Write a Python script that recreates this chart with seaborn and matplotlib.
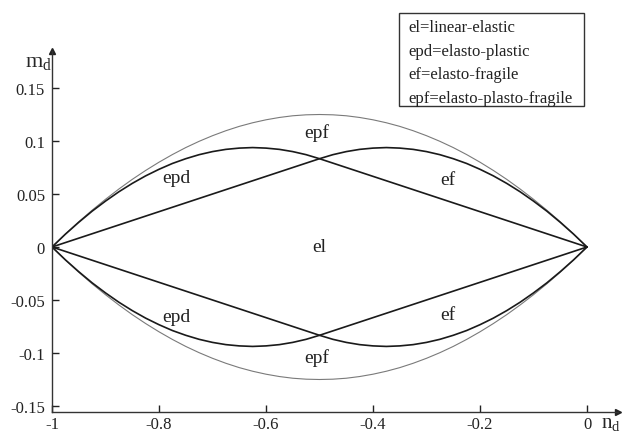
import numpy as np
import pandas as pd
import seaborn as sns
import matplotlib.pyplot as plt
import matplotlib.patches as mpatches

# values (n_d, m_d), upper half; lower half is the mirror
n_epf = [-1.0, -0.975, -0.95, -0.925, -0.9, -0.875, -0.85, -0.825, -0.8, -0.775, -0.75,
         -0.725, -0.7, -0.675, -0.65, -0.625, -0.6, -0.575, -0.55, -0.525, -0.5,
         -0.475, -0.45, -0.425, -0.4, -0.375, -0.35, -0.325, -0.3, -0.275, -0.25,
         -0.225, -0.2, -0.175, -0.15, -0.125, -0.1, -0.075, -0.05, -0.025, 0.0]
m_epf = [0.0, 0.0122, 0.0238, 0.0347, 0.045, 0.0547, 0.0638, 0.0722, 0.08, 0.0872, 0.0938,
         0.0997, 0.105, 0.1097, 0.1138, 0.1172, 0.12, 0.1222, 0.1238, 0.1247, 0.125,
         0.1247, 0.1238, 0.1222, 0.12, 0.1172, 0.1138, 0.1097, 0.105, 0.0997, 0.0938,
         0.0872, 0.08, 0.0722, 0.0638, 0.0547, 0.045, 0.0347, 0.0238, 0.0122, 0.0]

# elasto-plastic: curved part up to n=-0.5, then straight to the origin
n_epd = [-1.0, -0.975, -0.95, -0.925, -0.9, -0.875, -0.85, -0.825, -0.8, -0.775, -0.75,
         -0.725, -0.7, -0.675, -0.65, -0.625, -0.6, -0.575, -0.55, -0.525, -0.5, 0.0]
m_epd = [0.0, 0.0121, 0.0233, 0.0338, 0.0433, 0.0521, 0.06, 0.0671, 0.0733, 0.0788, 0.0833,
         0.0871, 0.09, 0.0921, 0.0933, 0.0938, 0.0933, 0.0921, 0.09, 0.0871, 0.0833, 0.0]

# elasto-fragile: straight from n=-1 to -0.5, then curved to the origin
n_ef = [-1.0, -0.5, -0.475, -0.45, -0.425, -0.4, -0.375, -0.35, -0.325, -0.3, -0.275,
        -0.25, -0.225, -0.2, -0.175, -0.15, -0.125, -0.1, -0.075, -0.05, -0.025, 0.0]
m_ef = [0.0, 0.0833, 0.0871, 0.09, 0.0921, 0.0933, 0.0938, 0.0933, 0.0921, 0.09, 0.0871,
        0.0833, 0.0788, 0.0733, 0.0671, 0.06, 0.0521, 0.0433, 0.0338, 0.0233, 0.0121, 0.0]

x_ticks = [-1, -0.8, -0.6, -0.4, -0.2, 0]
x_ticklabels = ["-1", "-0.8", "-0.6", "-0.4", "-0.2", "0"]
y_ticks = [-0.15, -0.1, -0.05, 0, 0.05, 0.1, 0.15]
y_ticklabels = ["-0.15", "-0.1", "-0.05", "0", "0.05", "0.1", "0.15"]

legend_lines = ["el=linear-elastic", "epd=elasto-plastic",
                "ef=elasto-fragile", "epf=elasto-plasto-fragile"]

region_labels = ["epf", "epd", "ef", "el", "epd", "ef", "epf"]
region_n = [-0.505, -0.768, -0.26, -0.5, -0.768, -0.26, -0.505]
region_m = [0.108, 0.066, 0.064, 0.0, -0.066, -0.064, -0.104]

sns.set_theme(style="white")
plt.rcParams['font.family'] = ['Liberation Serif', 'DejaVu Serif']
plt.rcParams['mathtext.fontset'] = 'custom'
plt.rcParams['mathtext.rm'] = 'Liberation Serif'
plt.rcParams['mathtext.it'] = 'Liberation Serif'

fig = plt.figure(figsize=(6.23, 4.35), dpi=100)
ax = fig.add_axes([52/623, 22/435, 566/623, 361/435])

curves = [
    (n_epf, m_epf, "#7a7a7a", 0.8),
    (n_epf, [-v for v in m_epf], "#7a7a7a", 0.8),
    (n_epd, m_epd, "#1a1a1a", 1.2),
    (n_epd, [-v for v in m_epd], "#1a1a1a", 1.2),
    (n_ef, m_ef, "#1a1a1a", 1.2),
    (n_ef, [-v for v in m_ef], "#1a1a1a", 1.2),
]
for xs, ys, col, lw in curves:
    df = pd.DataFrame({"n": xs, "m": ys})
    sns.lineplot(data=df, x="n", y="m", sort=False, estimator=None,
                 color=col, linewidth=lw, ax=ax, solid_joinstyle="round")

for lab, xx, yy in zip(region_labels, region_n, region_m):
    ax.text(xx, yy, lab, fontsize=14, ha="center", va="center", color="#222222")

ax.set_xlim(-1, (618 - 587) / 535)
ax.set_ylim((248 - 413) / 1060, (248 - 52) / 1060)
ax.set_xticks(x_ticks)
ax.set_xticklabels(x_ticklabels)
ax.set_yticks(y_ticks)
ax.set_yticklabels(y_ticklabels)
ax.tick_params(direction="in", length=5, width=1, colors="#222222",
               labelsize=12, bottom=True, left=True)
ax.tick_params(axis="x", pad=3)
ax.tick_params(axis="y", pad=5)
ax.set_xlabel("")
ax.set_ylabel("")

for s in ["top", "right"]:
    ax.spines[s].set_visible(False)
for s in ["left", "bottom"]:
    ax.spines[s].set_color("#333333")
    ax.spines[s].set_linewidth(1.0)

# axis arrows
ax.plot(1, 0, ">", color="#222222", markersize=5, transform=ax.transAxes, clip_on=False)
ax.plot(0, 1, "^", color="#222222", markersize=5, transform=ax.transAxes, clip_on=False)

fig.text(25/623, 1 - 62/435, r"$\mathrm{m_d}$", fontsize=16, ha="left", va="center")
fig.text(601/623, 1 - 424/435, r"$\mathrm{n_d}$", fontsize=15, ha="left", va="center")

# legend box
fig.add_artist(mpatches.Rectangle((399/623, 1 - 107/435), 185/623, 93/435,
                                  transform=fig.transFigure, fill=False,
                                  edgecolor="#333333", linewidth=1.0))
for i, line in enumerate(legend_lines):
    fig.text(408/623, 1 - (28 + 23.7*i)/435, line, fontsize=12,
             ha="left", va="center", color="#222222")

plt.savefig("out.png", dpi=100)
